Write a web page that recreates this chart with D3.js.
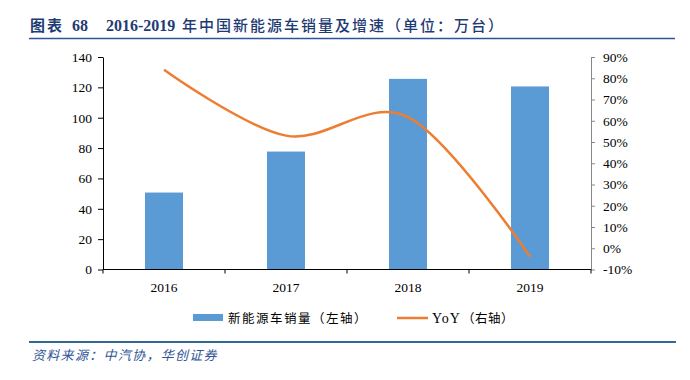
<!DOCTYPE html>
<html><head><meta charset="utf-8">
<script src="https://cdn.jsdelivr.net/npm/d3@7/dist/d3.min.js"></script>
<style>
body{margin:0;background:#fff;}
svg text{font-family:"Liberation Serif","Times New Roman","Noto Sans CJK SC",serif;}
</style></head>
<body><svg id="c" width="690" height="380"></svg>
<script>
const years = ["2016","2017","2018","2019"];
const sales = [50.7, 77.7, 125.6, 120.6];
const yoy = [84, 53, 61.7, -4];
const leftTicks = [0,20,40,60,80,100,120,140];
const rightTicks = [-10,0,10,20,30,40,50,60,70,80,90];

const svg = d3.select("#c");
const L = 103, R = 591, T = 57, B = 269.5;
const x = d3.scaleBand().domain(years).range([L, R]).paddingInner(0).paddingOuter(0);
const yL = d3.scaleLinear().domain([0,140]).range([B, T]);
const yR = d3.scaleLinear().domain([-10,90]).range([B, T]);

// title
const tc = "#1F3B73";
svg.append("text").attr("x",30).attr("y",31).attr("fill",tc)
  .style("font-family","Noto Sans CJK SC").style("font-size","15px").style("font-weight","bold").style("letter-spacing","2px").text("图表");
svg.append("text").attr("x",72).attr("y",31).attr("fill",tc)
  .style("font-size","16px").style("font-weight","bold").text("68");
svg.append("text").attr("x",106).attr("y",31).attr("fill",tc)
  .style("font-size","16px").style("font-weight","bold").text("2016-2019");
svg.append("text").attr("x",182).attr("y",31).attr("fill",tc)
  .style("font-family","Noto Sans CJK SC").style("font-size","15px").style("font-weight","500").style("letter-spacing","2px")
  .text("年中国新能源车销量及增速（单位：万台）");
svg.append("line").attr("x1",29).attr("x2",675).attr("y1",38.5).attr("y2",38.5)
  .attr("stroke","#2F5496").attr("stroke-width",1.6);

// bars
const bw = 38;
svg.append("g").selectAll("rect").data(years).join("rect")
  .attr("x", d => x(d) + x.bandwidth()/2 - bw/2)
  .attr("width", bw)
  .attr("y", (d,i) => yL(sales[i]))
  .attr("height", (d,i) => B - yL(sales[i]))
  .attr("fill","#5B9BD5");

// left axis
const gl = svg.append("g").attr("transform",`translate(${L},0)`)
  .call(d3.axisLeft(yL).tickValues(leftTicks).tickSize(5).tickPadding(6).tickSizeOuter(0));
gl.select(".domain").attr("stroke","#000");
gl.selectAll(".tick line").attr("stroke","#000");
gl.selectAll("text").style("font-size","13.5px").attr("fill","#000");

// right axis
const gr = svg.append("g").attr("transform",`translate(${R},0)`)
  .call(d3.axisRight(yR).tickValues(rightTicks).tickFormat(d => d + "%").tickSize(4).tickPadding(8).tickSizeOuter(0));
gr.select(".domain").attr("stroke","#888");
gr.selectAll(".tick line").attr("stroke","#888");
gr.selectAll("text").style("font-size","13.5px").attr("fill","#000");

// x axis
const gx = svg.append("g").attr("transform",`translate(0,${B})`);
gx.append("line").attr("x1",L).attr("x2",R).attr("stroke","#000").attr("stroke-width",1.2);
const bounds = years.map(d => x(d)).concat([R]);
gx.selectAll(".tk").data(bounds).join("line").attr("class","tk")
  .attr("x1",d=>d).attr("x2",d=>d).attr("y1",0).attr("y2",4).attr("stroke","#000");
gx.selectAll(".lb").data(years).join("text").attr("class","lb")
  .attr("x", d => x(d) + x.bandwidth()/2).attr("y", 22)
  .attr("text-anchor","middle").style("font-size","13.5px").attr("fill","#000").text(d=>d);

// line
const line = d3.line().x((d,i) => x(years[i]) + x.bandwidth()/2).y(d => yR(d)).curve(d3.curveCatmullRom.alpha(0));
svg.append("path").datum(yoy).attr("d", line).attr("fill","none")
  .attr("stroke","#ED7D31").attr("stroke-width",2.5);

// legend
const lg = svg.append("g");
lg.append("rect").attr("x",193).attr("y",314).attr("width",30).attr("height",7).attr("fill","#5B9BD5");
lg.append("text").attr("x",228).attr("y",322.5).style("font-family","Noto Sans CJK SC").style("font-size","12.5px")
  .style("letter-spacing","1.5px").attr("fill","#000").text("新能源车销量（左轴）");
lg.append("line").attr("x1",397).attr("x2",428).attr("y1",318).attr("y2",318).attr("stroke","#ED7D31").attr("stroke-width",2.5);
lg.append("text").attr("x",432).attr("y",323).style("font-size","14px").style("letter-spacing","1px").attr("fill","#000").text("YoY");
lg.append("text").attr("x",462).attr("y",322.5).style("font-family","Noto Sans CJK SC").style("font-size","12.5px")
  .style("letter-spacing","0.5px").attr("fill","#000").text("（右轴）");

// footer
svg.append("line").attr("x1",29).attr("x2",676).attr("y1",342).attr("y2",342)
  .attr("stroke","#336699").attr("stroke-width",2);
svg.append("text").attr("x",32).attr("y",360).attr("fill","#2F5496")
  .style("font-family","Noto Sans CJK SC").style("font-style","italic").style("font-size","13px").style("letter-spacing","1.3px")
  .text("资料来源：中汽协，华创证券");
</script></body></html>
